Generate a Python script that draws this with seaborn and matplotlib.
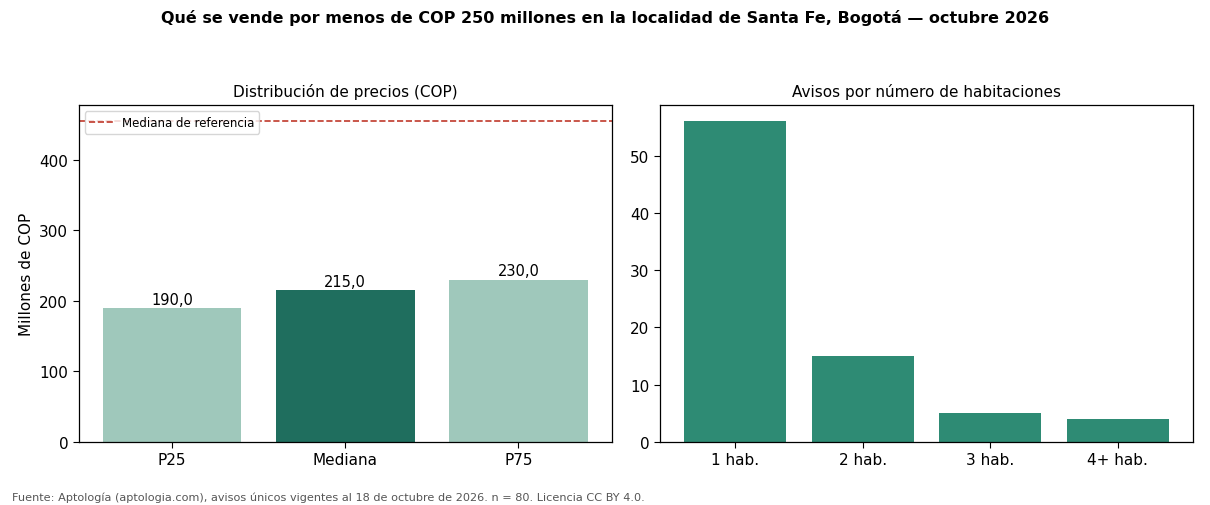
import matplotlib
matplotlib.use("Agg")
import matplotlib.pyplot as plt
import seaborn as sns

sns.set_style("white")
plt.rcParams["font.family"] = ["DejaVu Sans"]
for k in ("text.color", "axes.labelcolor", "xtick.color", "ytick.color"):
    plt.rcParams[k] = "black"

# datos
price_labels = ["P25", "Mediana", "P75"]
price_values = [190.0, 215.0, 230.0]
median_ref = 455.0

room_labels = ["1 hab.", "2 hab.", "3 hab.", "4+ hab."]
room_counts = [56, 15, 5, 4]

fig, (ax1, ax2) = plt.subplots(1, 2, figsize=(12.1, 5.06), dpi=100)
fig.subplots_adjust(left=0.065, right=0.986, top=0.79, bottom=0.125, wspace=0.09)

# panel izquierdo: percentiles de precio
light, dark = "#9fc8bb", "#1f6e5e"
sns.barplot(x=price_labels, y=price_values, hue=price_labels,
            palette=[light, dark, light], legend=False, ax=ax1, saturation=1,
            width=0.8, linewidth=0)
for p, v in zip(ax1.patches, price_values):
    ax1.text(p.get_x() + p.get_width() / 2, v + 2, f"{v:.1f}".replace(".", ","),
             ha="center", va="bottom", fontsize=10.5)
ax1.axhline(median_ref, color="#c0392b", ls="--", lw=1.2, label="Mediana de referencia")
ax1.legend(loc="upper left", fontsize=8.5)
ax1.set_ylim(0, median_ref * 1.05)
ax1.set_xlim(-0.54, len(price_labels) - 1 + 0.54)
ax1.set_ylabel("Millones de COP", fontsize=11)
ax1.set_xlabel("")
ax1.set_title("Distribución de precios (COP)", fontsize=11, pad=7)

# panel derecho: avisos por habitaciones
sns.barplot(x=room_labels, y=room_counts, color="#2e8b74", ax=ax2, saturation=1,
            width=0.8, linewidth=0)
ax2.set_ylim(0, max(room_counts) * 1.05)
ax2.set_xlim(-0.59, len(room_labels) - 1 + 0.59)
ax2.set_xlabel("")
ax2.set_ylabel("")
ax2.set_title("Avisos por número de habitaciones", fontsize=11, pad=7)

for ax in (ax1, ax2):
    ax.tick_params(axis="both", labelsize=11, length=4, left=True, bottom=True)
    for s in ax.spines.values():
        s.set_color("black")
        s.set_linewidth(0.9)

fig.suptitle("Qué se vende por menos de COP 250 millones en la localidad de Santa Fe, Bogotá — octubre 2026",
             fontsize=11.5, fontweight="bold", y=0.98)
fig.text(0.01, 0.01, "Fuente: Aptología (aptologia.com), avisos únicos vigentes al 18 de octubre de 2026. n = 80. Licencia CC BY 4.0.",
         fontsize=8.15, color="#555555")

fig.savefig("out.png", dpi=100)
